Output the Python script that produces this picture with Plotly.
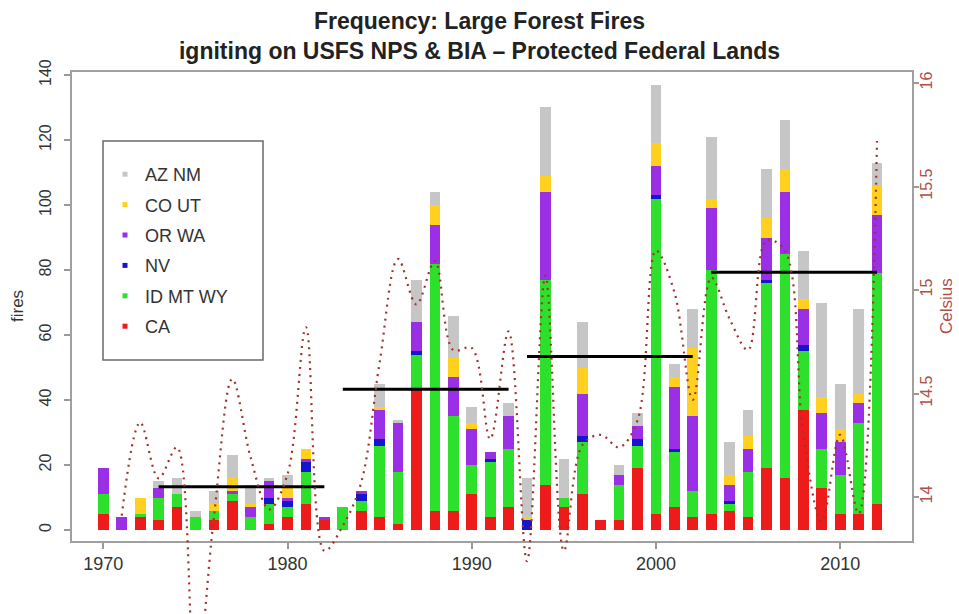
import plotly.graph_objects as go

# ---------------- data ----------------
years = list(range(1970, 2013))

ca_fires    = [5, 0, 4, 3, 7, 0, 3, 9, 0, 2, 4, 8, 3, 0, 6, 4, 2, 43, 6, 6, 11, 4, 7, 0, 14, 7,
               11, 3, 3, 19, 5, 7, 4, 5, 6, 4, 19, 16, 37, 13, 5, 5, 8]
idmtwy      = [6, 0, 1, 7, 4, 4, 3, 2, 4, 6, 3, 10, 0, 7, 3, 22, 16, 11, 76, 29, 9, 17, 18, 0, 63, 3,
               16, 0, 11, 7, 97, 17, 8, 75, 2, 14, 57, 69, 18, 12, 12, 28, 71]
nv_fires    = [0, 0, 0, 0, 0, 0, 0, 0, 0, 2, 2, 3, 0, 0, 2, 2, 0, 1, 0, 0, 0, 1, 0, 3, 0, 0,
               2, 0, 0, 2, 1, 1, 0, 0, 1, 0, 1, 0, 2, 0, 0, 0, 0]
orwa_fires  = [8, 4, 0, 3, 0, 0, 0, 1, 3, 5, 1, 1, 1, 0, 1, 9, 15, 9, 12, 12, 11, 2, 10, 0, 27, 0,
               13, 0, 3, 4, 9, 19, 23, 19, 5, 7, 13, 19, 11, 11, 10, 6, 18]
cout_fires  = [0, 0, 5, 0, 0, 0, 2, 4, 1, 0, 3, 3, 0, 0, 0, 1, 0, 0, 6, 6, 2, 0, 0, 1, 5, 0,
               8, 0, 0, 0, 7, 3, 21, 3, 3, 4, 6, 7, 3, 5, 4, 3, 9]
aznm_fires  = [0, 0, 0, 2, 5, 2, 4, 7, 6, 1, 4, 0, 0, 0, 0, 7, 1, 13, 4, 13, 5, 0, 4, 12, 21, 12,
               14, 0, 3, 4, 18, 4, 12, 19, 10, 8, 15, 15, 15, 29, 14, 26, 7]

series_names = ["CA", "ID MT WY", "NV", "OR WA", "CO UT", "AZ NM"]
series_values = [ca_fires, idmtwy, nv_fires, orwa_fires, cout_fires, aznm_fires]
series_colors = ["#EE1B1B", "#2CE02C", "#1515CC", "#9B2FE6", "#FFD01E", "#C6C6C6"]

# decade means (horizontal black lines)
period_start = [1973, 1983, 1993, 2003]
period_end   = [1982, 1992, 2002, 2012]
period_mean  = [13.3, 43.3, 53.4, 79.3]

# temperature (Celsius), yearly
temp_years = list(range(1971, 2013))
temp_c = [13.91, 14.36, 14.09, 14.24, 13.10, 13.90, 14.57, 14.19, 13.94, 14.11,
          14.82, 13.74, 13.86, 14.07, 14.65, 15.15, 14.93, 15.14, 14.71, 14.72,
          14.28, 14.80, 13.69, 15.07, 13.74, 14.25, 14.30, 14.24, 14.37, 15.19,
          14.99, 14.47, 15.06, 14.86, 14.71, 15.24, 15.19, 14.30, 13.88, 14.30,
          13.92, 15.72]

fire_ticks = [0, 20, 40, 60, 80, 100, 120, 140]
year_ticks = [1970, 1980, 1990, 2000, 2010]
temp_ticks = [14, 14.5, 15, 15.5, 16]
temp_ticktext = ["14", "14.5", "15", "15.5", "16"]

# ---------------- layout geometry (pixels) ----------------
W, H = 959, 614
L, R, T, B = 72, 47, 72, 0
plot_h = H - T - B
axis_bottom_px = 541
FONT = "Liberation Sans, Arial, Helvetica, sans-serif"
TEMP_COL = "#A3302A"
TEMP_TXT = "#B0504A"


def py(px):  # pixel y -> paper y
    return (H - B - px) / plot_h


def pxx(px):  # pixel x -> paper x
    return (px - L) / (W - L - R)


fig = go.Figure()

for name, vals, col in zip(series_names, series_values, series_colors):
    fig.add_trace(go.Bar(x=years, y=vals, name=name, marker=dict(color=col, line=dict(width=0)),
                         width=0.58, showlegend=False, xaxis="x", yaxis="y"))

for s, e, m in zip(period_start, period_end, period_mean):
    fig.add_trace(go.Scatter(x=[s, e], y=[m, m], mode="lines", line=dict(color="black", width=3),
                             showlegend=False, hoverinfo="skip", xaxis="x", yaxis="y"))

fig.add_trace(go.Scatter(x=temp_years, y=temp_c, mode="lines",
                         line=dict(color=TEMP_COL, width=2.2, dash="2px,5px", shape="spline", smoothing=1.0),
                         showlegend=False, xaxis="x", yaxis="y2", name="Celsius"))

# legend entries (top to bottom as in the reference)
for name in ["AZ NM", "CO UT", "OR WA", "NV", "ID MT WY", "CA"]:
    col = series_colors[series_names.index(name)]
    fig.add_trace(go.Scatter(x=[None], y=[None], mode="markers", name=name, legendgroup=name,
                             marker=dict(symbol="square", size=5, color=col), showlegend=True,
                             xaxis="x", yaxis="y"))

fig.update_layout(
    width=W, height=H,
    margin=dict(l=L, r=R, t=T, b=B, autoexpand=False),
    template="none",
    paper_bgcolor="white",
    plot_bgcolor="rgba(0,0,0,0)",
    barmode="stack",
    bargap=0,
    font=dict(family=FONT, color="#333333"),
    title=dict(text="<b>Frequency: Large Forest Fires<br>igniting on USFS NPS & BIA \u2013 Protected Federal Lands</b>",
               x=0.5, xref="container", xanchor="center",
               y=1 - 29 / H, yref="container", yanchor="top",
               font=dict(family=FONT, size=23, color="#222222")),
    xaxis=dict(domain=[0, 1], anchor="y", range=[1968.3, 2013.9],
               tickvals=year_ticks, ticktext=[str(v) for v in year_ticks],
               ticks="outside", ticklen=6, tickwidth=1.5, tickcolor="#999999",
               showline=True, linecolor="#a0a0a0", linewidth=2, mirror=True,
               showgrid=False, zeroline=False, automargin=False, ticklabelstandoff=-1,
               tickfont=dict(family=FONT, size=18, color="#333333")),
    yaxis=dict(domain=[py(axis_bottom_px), 1], anchor="x", range=[-3.38, 140.92],
               tickvals=fire_ticks, ticks="outside", ticklen=6, tickwidth=1.5, tickcolor="#999999",
               tickangle=-90, showline=True, linecolor="#a0a0a0", linewidth=2, mirror=True,
               showgrid=False, zeroline=False, automargin=False, ticklabelstandoff=7,
               tickfont=dict(family=FONT, size=16, color="#333333")),
    yaxis2=dict(domain=[0, 1], anchor="x", side="right",
                range=[14 - (H - 497) / 207, 14 + (497 - T) / 207],
                tickvals=temp_ticks, ticktext=temp_ticktext, ticks="outside", ticklen=6,
                tickwidth=1.5, tickcolor="#999999", tickangle=-90,
                showline=False, showgrid=False, zeroline=False, automargin=False,
                ticklabelstandoff=-6,
                tickfont=dict(family=FONT, size=16, color=TEMP_TXT)),
    legend=dict(x=pxx(105), xanchor="left", y=py(156), yanchor="top",
                traceorder="grouped", tracegroupgap=4, bgcolor="rgba(0,0,0,0)", borderwidth=0,
                font=dict(family=FONT, size=18, color="#333333")),
    shapes=[dict(type="rect", xref="paper", yref="paper",
                 x0=pxx(103), x1=pxx(263), y0=py(360), y1=py(141),
                 line=dict(color="#6a6a6a", width=1.5), fillcolor="white", layer="below")],
    annotations=[
        dict(text="fires", xref="paper", yref="paper", x=pxx(17), y=py(306),
             xanchor="center", yanchor="middle",
             showarrow=False, textangle=-90, font=dict(family=FONT, size=17, color="#333333")),
        dict(text="Celsius", xref="paper", yref="paper", x=pxx(946), y=py(306),
             xanchor="center", yanchor="middle",
             showarrow=False, textangle=-90, font=dict(family=FONT, size=17, color=TEMP_TXT)),
    ],
)

fig.write_html("out.html")
